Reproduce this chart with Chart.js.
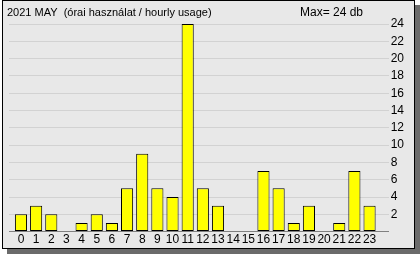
<!DOCTYPE html>
<html lang="en">
<head>
    <meta charset="UTF-8">
    <title>Hourly usage</title>
    <script src="https://cdn.jsdelivr.net/npm/chart.js"></script>
    <style>
        body { margin: 0; background: #ffffff; }
        #wrap { width: 420px; height: 254px; }
    </style>
</head>
<body>
    <div id="wrap"><canvas id="myChart" width="420" height="254"></canvas></div>

    <script>
        // data
        var hours = [0, 1, 2, 3, 4, 5, 6, 7, 8, 9, 10, 11, 12, 13, 14, 15, 16, 17, 18, 19, 20, 21, 22, 23];
        var usage = [2, 3, 2, 0, 1, 2, 1, 5, 9, 5, 4, 24, 5, 3, 0, 0, 7, 5, 1, 3, 0, 1, 7, 3];
        var yTicks = [0, 2, 4, 6, 8, 10, 12, 14, 16, 18, 20, 22, 24];
        var titleText = '2021 MAY  (órai használat / hourly usage)';
        var maxText = 'Max= 24 db';

        var FONT = '"Liberation Sans", Arial, sans-serif';

        // panel with dark shadow + the two header texts
        const framePlugin = {
            id: 'frame',
            beforeDraw(chart) {
                const c = chart.ctx;
                c.save();
                c.fillStyle = '#ffffff';
                c.fillRect(0, 0, chart.width, chart.height);
                c.fillStyle = '#6b6b6b';
                c.fillRect(7, 5, 413, 249);
                c.fillStyle = '#e8e8e8';
                c.fillRect(2, 0, 413, 249);
                c.strokeStyle = '#000000';
                c.lineWidth = 1;
                c.strokeRect(2.5, 0.5, 412, 248);
                c.restore();
            },
            afterDraw(chart) {
                const c = chart.ctx;
                c.save();
                c.fillStyle = '#000000';
                c.textBaseline = 'middle';
                c.textAlign = 'left';
                c.font = '11px ' + FONT;
                c.fillText(titleText, 7, 13);
                c.font = '12px ' + FONT;
                c.fillText(maxText, 300, 13);
                c.restore();
            }
        };

        const data = {
            datasets: [{
                data: usage.map(function (v, i) { return { x: hours[i], y: v }; }),
                backgroundColor: '#ffff00',
                borderColor: '#000000',
                borderWidth: 1,
                borderSkipped: false,
                barPercentage: 0.8,
                categoryPercentage: 1.0
            }]
        };

        const config = {
            type: 'bar',
            data: data,
            options: {
                responsive: false,
                animation: false,
                layout: { padding: { top: 24, left: 9, right: 14, bottom: 6 } },
                plugins: { legend: { display: false }, tooltip: { enabled: false } },
                scales: {
                    x: {
                        type: 'linear',
                        offset: false,
                        min: -0.79,
                        max: 24.26,
                        afterBuildTicks: function (axis) {
                            axis.ticks = hours.map(function (h) { return { value: h }; });
                        },
                        grid: { display: false, drawTicks: false },
                        border: { display: true, color: '#808080', width: 1 },
                        ticks: {
                            autoSkip: false,
                            maxRotation: 0,
                            padding: 1,
                            color: '#000000',
                            font: { family: FONT, size: 12 }
                        }
                    },
                    y: {
                        position: 'right',
                        min: 0,
                        max: 24,
                        afterBuildTicks: function (axis) {
                            axis.ticks = yTicks.map(function (v) { return { value: v }; });
                        },
                        grid: {
                            drawTicks: false,
                            color: function (ctx) { return ctx.tick.value === 0 ? 'rgba(0,0,0,0)' : '#d2d2d2'; }
                        },
                        border: { display: false },
                        ticks: {
                            autoSkip: false,
                            padding: 2,
                            color: '#000000',
                            font: { family: FONT, size: 12 },
                            callback: function (v) { return v === 0 ? '' : v; }
                        }
                    }
                }
            },
            plugins: [framePlugin]
        };

        const ctx = document.getElementById('myChart').getContext('2d');
        const chart = new Chart(ctx, config);
    </script>
</body>
</html>
